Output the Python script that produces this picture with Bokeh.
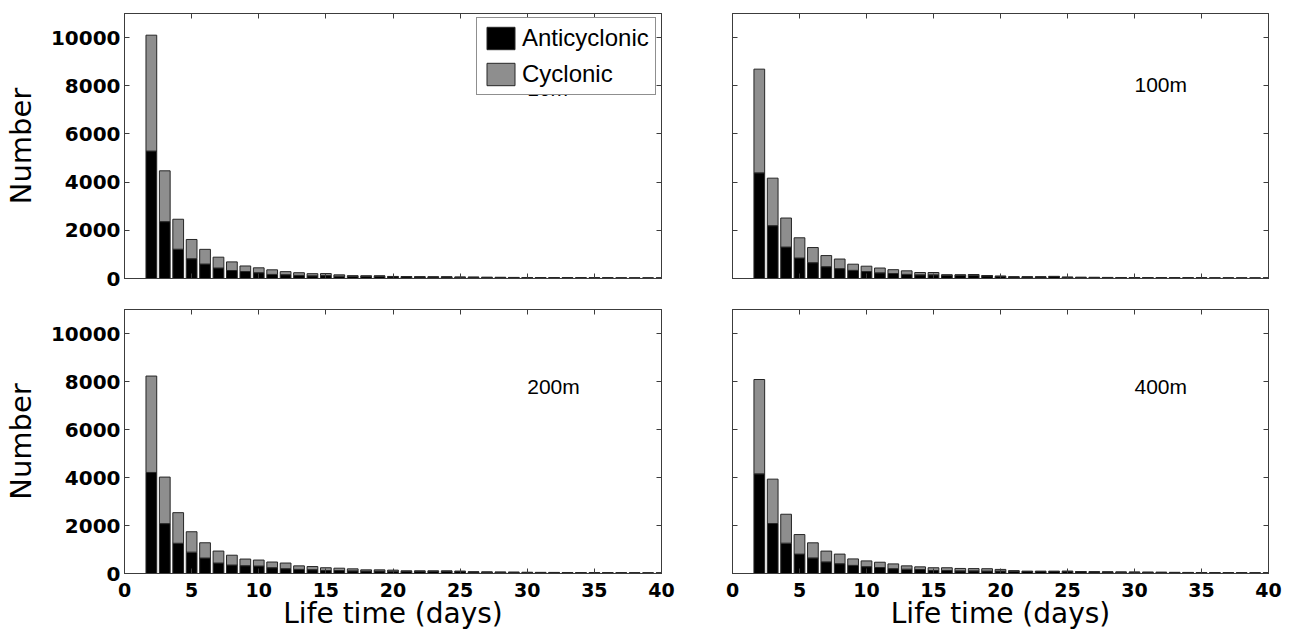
from bokeh.plotting import figure
from bokeh.layouts import column, row
from bokeh.models import (FixedTicker, LinearAxis, Range1d, Label, Legend,
                          LegendItem, ColumnDataSource)
from bokeh.embed import file_html
from bokeh.resources import INLINE

# ---------------- data ----------------
days = list(range(2, 41))

depths = ["10m", "100m", "200m", "400m"]

anti_10m = [5290, 2360, 1215, 820, 600, 435, 332, 290, 240, 170, 158, 128, 112, 120,
            97, 95, 95, 95, 75, 72, 65, 62, 62, 52, 50, 45, 43, 40, 38, 36, 34, 32,
            30, 29, 27, 25, 24, 23, 22]
cyc_10m = [4810, 2110, 1245, 800, 610, 450, 358, 230, 203, 190, 127, 112, 88, 85,
           55, 20, 15, 15, 10, 11, 7, 8, 8, 6, 5, 5, 5, 5, 4, 4, 4, 3, 3, 3, 3, 3,
           2, 2, 2]

anti_100m = [4385, 2193, 1305, 850, 656, 490, 408, 338, 290, 235, 207, 172, 152, 152,
             140, 140, 140, 110, 90, 65, 65, 65, 80, 50, 45, 43, 40, 38, 36, 34, 32,
             30, 29, 27, 25, 24, 23, 22, 21]
cyc_100m = [4305, 1972, 1205, 840, 629, 462, 400, 256, 221, 200, 159, 146, 97, 97,
            12, 12, 26, 14, 7, 5, 5, 5, 10, 5, 5, 5, 5, 4, 4, 4, 4, 4, 3, 3, 3, 3,
            3, 3, 3]

anti_200m = [4210, 2078, 1260, 890, 644, 436, 353, 325, 311, 242, 200, 173, 159, 124,
             124, 110, 100, 100, 95, 90, 90, 90, 90, 85, 60, 55, 50, 47, 43, 41, 39,
             36, 34, 32, 30, 28, 26, 24, 22]
cyc_200m = [4017, 1939, 1275, 850, 636, 499, 409, 277, 249, 236, 236, 145, 131, 116,
            97, 84, 52, 52, 45, 20, 20, 20, 20, 15, 10, 10, 10, 8, 7, 7, 6, 6, 6, 6,
            5, 5, 4, 4, 4]

anti_400m = [4152, 2083, 1264, 808, 649, 484, 408, 339, 284, 249, 200, 180, 166, 124,
             124, 110, 110, 100, 100, 95, 85, 85, 85, 85, 72, 65, 60, 55, 51, 48, 46,
             42, 40, 37, 34, 31, 28, 26, 25]
cyc_400m = [3931, 1848, 1205, 815, 629, 449, 400, 269, 241, 221, 200, 138, 111, 116,
            116, 100, 95, 100, 70, 22, 12, 12, 12, 15, 11, 10, 8, 7, 7, 7, 6, 6, 5, 5,
            4, 4, 4, 4, 3]

x_ticks = [0, 5, 10, 15, 20, 25, 30, 35, 40]
y_ticks = [0, 2000, 4000, 6000, 8000, 10000]

series_names = ["Anticyclonic", "Cyclonic"]
series_colors = ["#000000", "#8e8e8e"]
x_title = "Life time (days)"
y_title = "Number"

AX = "#3c3c3c"
TICK_FONT = "DejaVu Sans"
LABEL_FONT = "DejaVu Sans"
TEXT_FONT = "Liberation Sans"


def hide_labels(ax):
    ax.major_label_text_color = None
    ax.major_label_text_font_size = "1px"
    ax.major_label_standoff = 0


def make_panel(depth, anti, cyc, *, show_y, show_x, legend, width, height,
               bl, br, bt, bb, label_y):
    p = figure(width=width, height=height, x_range=Range1d(0, 40),
               y_range=Range1d(0, 11000), output_backend="svg",
               toolbar_location=None, min_border=0,
               min_border_left=bl, min_border_right=br,
               min_border_top=bt, min_border_bottom=bb,
               background_fill_color="white", border_fill_color="white")
    p.grid.visible = False
    p.outline_line_color = AX
    p.outline_line_width = 1

    src = ColumnDataSource(dict(day=days, Anticyclonic=anti, Cyclonic=cyc))
    rs = p.vbar_stack(series_names, x="day", width=0.8, source=src,
                      fill_color=series_colors, line_color="#262626",
                      line_width=1)

    p.xaxis.ticker = FixedTicker(ticks=x_ticks)
    p.yaxis.ticker = FixedTicker(ticks=y_ticks)
    for ax in p.axis:
        ax.major_tick_in = 5
        ax.major_tick_out = 0
        ax.minor_tick_line_color = None
        ax.axis_line_color = AX
        ax.major_tick_line_color = AX
        ax.major_label_text_font = TICK_FONT
        ax.major_label_text_font_style = "bold"
        ax.major_label_text_font_size = "20px"
        ax.major_label_text_color = "black"
        ax.axis_label_text_font = LABEL_FONT
        ax.axis_label_text_font_style = "normal"
        ax.axis_label_text_font_size = "29px"
        ax.axis_label_text_color = "black"

    if show_y:
        p.yaxis.axis_label = y_title
        p.yaxis.major_label_standoff = 4
        p.yaxis.axis_label_standoff = 10
    else:
        hide_labels(p.yaxis[0])
    if show_x:
        p.xaxis.axis_label = x_title
        p.xaxis.major_label_text_font_size = "19px"
        p.xaxis.axis_label_text_font_size = "28px"
        p.xaxis.major_label_standoff = 9
        p.xaxis.axis_label_standoff = -3
    else:
        hide_labels(p.xaxis[0])

    # ticks on the top and right borders
    for side, tk in (("above", x_ticks), ("right", y_ticks)):
        ax = LinearAxis(ticker=FixedTicker(ticks=tk),
                        major_tick_in=5, major_tick_out=0,
                        minor_tick_line_color=None,
                        axis_line_color=AX, major_tick_line_color=AX)
        hide_labels(ax)
        p.add_layout(ax, side)

    p.add_layout(Label(x=30, y=label_y, text=depth, text_font=TEXT_FONT,
                       text_font_size="21px", text_color="black",
                       text_baseline="middle", text_align="left"))

    if legend:
        leg = Legend(items=[LegendItem(label=series_names[0], renderers=[rs[0]]),
                            LegendItem(label=series_names[1], renderers=[rs[1]])],
                     location=(352, 183), orientation="vertical",
                     glyph_width=35, glyph_height=28, label_height=28,
                     label_standoff=4, spacing=8, padding=6, margin=0,
                     label_text_font=TEXT_FONT, label_text_font_size="24px",
                     label_text_color="black",
                     border_line_color="#202020", border_line_width=1,
                     background_fill_color="white", background_fill_alpha=1.0)
        p.add_layout(leg, "center")
    return p


top_h = 293
bot_h = 339
p1 = make_panel(depths[0], anti_10m, cyc_10m, show_y=True, show_x=False,
                legend=True, width=681, height=top_h, bl=122, br=20, bt=13, bb=15,
                label_y=7900)
p2 = make_panel(depths[1], anti_100m, cyc_100m, show_y=False, show_x=False,
                legend=False, width=614, height=top_h, bl=51, br=27, bt=13, bb=15,
                label_y=8050)
p3 = make_panel(depths[2], anti_200m, cyc_200m, show_y=True, show_x=True,
                legend=False, width=681, height=bot_h, bl=122, br=20, bt=16, bb=59,
                label_y=7800)
p4 = make_panel(depths[3], anti_400m, cyc_400m, show_y=False, show_x=True,
                legend=False, width=614, height=bot_h, bl=51, br=27, bt=16, bb=59,
                label_y=7800)

layout = column(row(p1, p2, spacing=0), row(p3, p4, spacing=0), spacing=0)

open("out.html", "w").write(file_html(layout, INLINE))
